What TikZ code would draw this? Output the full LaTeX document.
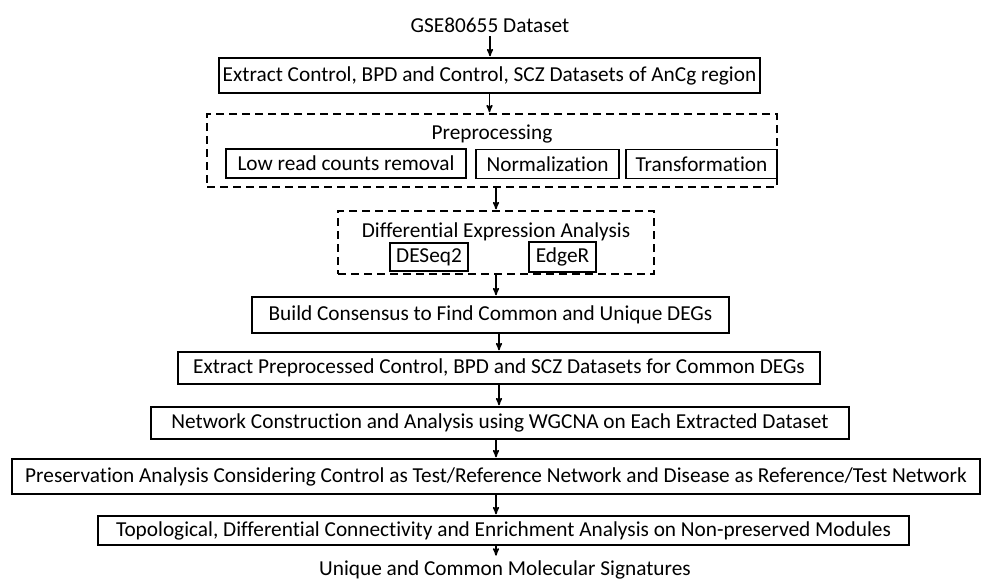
\documentclass[tikz,border=0pt]{standalone}
\usepackage{fontspec}
\setmainfont[Ligatures=NoCommon]{Carlito}
\usetikzlibrary{arrows}

\begin{document}
\begin{tikzpicture}[x=1pt,y=-1pt,->,>=stealth',shorten >=1pt,line width=1.5pt,
                    every node/.style={font=\fontsize{21.3}{25}\selectfont},
                    step box/.style={draw,rectangle,inner sep=0pt},
                    group box/.style={draw,rectangle,inner sep=0pt,dash pattern=on 8pt off 5pt}]
  \useasboundingbox (0,0) rectangle (981,581);

  \node (0) [anchor=base] at (490,32) {GSE80655 Dataset};
  \node[step box,minimum width=541pt,minimum height=35pt] (1) at (489.5,75.5)
    {Extract Control, BPD and Control, SCZ Datasets of AnCg region};

  % preprocessing
  \node[group box,minimum width=570pt,minimum height=73pt] (2) at (492,150.5) {};
  \node (2t) [anchor=base] at (492,139) {Preprocessing};
  \node[step box,minimum width=240pt,minimum height=29pt] (2a) at (346,163.5) {Low read counts removal};
  \node[step box,minimum width=143pt,minimum height=29pt] (2b) at (547.5,164) {Normalization};
  \node[step box,minimum width=151pt,minimum height=29pt] (2c) at (701.5,164) {Transformation};

  % differential expression
  \node[group box,minimum width=316pt,minimum height=63pt] (3) at (496,242.5) {};
  \node (3t) [anchor=base] at (496,237) {Differential Expression Analysis};
  \node[step box,minimum width=78pt,minimum height=28pt] (3a) at (429,257) {DESeq2};
  \node[step box,minimum width=67pt,minimum height=30pt] (3b) at (562.5,257) {EdgeR};

  \node[step box,minimum width=477pt,minimum height=36pt] (4) at (490.5,315)
    {Build Consensus to Find Common and Unique DEGs};
  \node[step box,minimum width=642pt,minimum height=32pt] (5) at (499,368)
    {Extract Preprocessed Control, BPD and SCZ Datasets for Common DEGs};
  \node[step box,minimum width=698pt,minimum height=32pt] (6) at (500,423)
    {Network Construction and Analysis using WGCNA on Each Extracted Dataset};
  \node[step box,minimum width=968pt,minimum height=35pt] (7) at (496,476.5)
    {Preservation Analysis Considering Control as Test/Reference Network and Disease as Reference/Test Network};
  \node[step box,minimum width=811pt,minimum height=29pt] (8) at (503.5,530.5)
    {Topological, Differential Connectivity and Enrichment Analysis on Non-preserved Modules};
  \node (9) [anchor=base] at (505,575.5) {Unique and Common Molecular Signatures};

  \draw (0.south) -- (0.south |- 1.north);
  \draw (1.south) -- (1.south |- 2.north);
  \draw (3.north |- 2.south) -- (3.north);
  \draw (3.south) -- (3.south |- 4.north);
  \draw (5.north |- 4.south) -- (5.north);
  \draw (5.south) -- (5.south |- 6.north);
  \draw (7.north |- 6.south) -- (7.north);
  \draw (7.south) -- (7.south |- 8.north);
  \draw (7.south |- 8.south) -- (7.south |- 9.north);
\end{tikzpicture}
\end{document}
